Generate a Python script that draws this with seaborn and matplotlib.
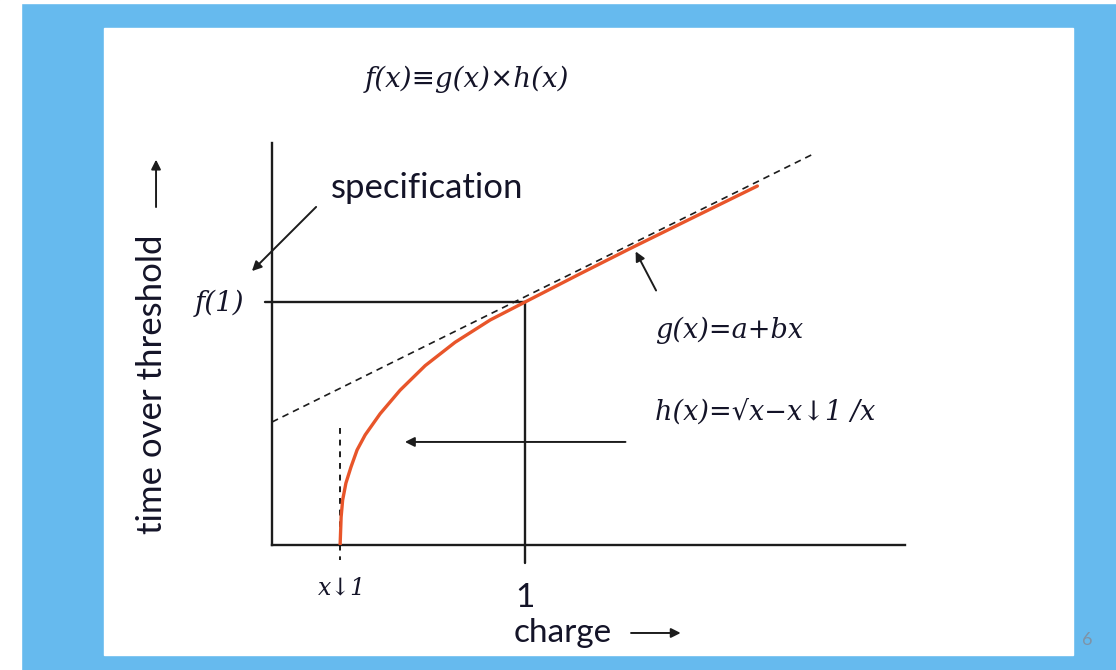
import numpy as np
import pandas as pd
import seaborn as sns
import matplotlib.pyplot as plt
from matplotlib.patches import Rectangle

# curve f(x) (charge units: x1 ~ 0.27, f(1) = 1)
charge = [0.269, 0.273, 0.279, 0.292, 0.312, 0.336, 0.368, 0.427, 0.506, 0.605,
          0.723, 0.862, 1.000, 1.217, 1.415, 1.692, 1.917]
tot = [0.000, 0.115, 0.185, 0.255, 0.321, 0.391, 0.453, 0.540, 0.637, 0.738,
       0.834, 0.926, 1.000, 1.116, 1.220, 1.362, 1.477]

# linear part g(x) = a + bx (dashed)
g_charge = [0.0, 2.146]
g_tot = [0.506, 1.613]

x1 = 0.269
f1 = 1.0

title_eq = "f(x)≡g(x)×h(x)"
g_label = "g(x)=a+bx"
h_label = "h(x)=√x−x↓1 /x"
x1_label = "x↓1"
f1_label = "f(1)"
xlabel = "charge"
ylabel = "time over threshold"

sns.set_style("white")
plt.rcParams['font.family'] = ['Lato', 'DejaVu Sans']
serif = ['DejaVu Serif']
ink = '#1c1c1c'
navy = '#141428'

fig = plt.figure(figsize=(11.16, 6.70), dpi=100, facecolor='#66BAEE')
fig.patches.append(Rectangle((0, 0), 21 / 1116, 1, transform=fig.transFigure,
                             color='white', zorder=-5))
fig.patches.append(Rectangle((0, 667 / 670), 1, 3 / 670, transform=fig.transFigure,
                             color='white', zorder=-5))
fig.patches.append(Rectangle((104 / 1116, 15 / 670), 969 / 1116, 627 / 670,
                             transform=fig.transFigure, color='white', zorder=-5))
fig.text(1087 / 1116, 30 / 670, "6", color='#7f93a6', fontsize=13,
         ha='center', va='center')

ax = fig.add_axes([272 / 1116, 125 / 670, 633 / 1116, 402 / 670])
ax.set_zorder(2)
ax.set_facecolor('none')
ax.set_xlim(0, 2.5)
ax.set_ylim(0, 1.654)
ax.set_xticks([])
ax.set_yticks([])
for s in ['top', 'right']:
    ax.spines[s].set_visible(False)
for s in ['left', 'bottom']:
    ax.spines[s].set_color(ink)
    ax.spines[s].set_linewidth(1.7)

df = pd.DataFrame({'charge': charge, 'tot': tot})
sns.lineplot(data=df, x='charge', y='tot', ax=ax, color='#E8552A', lw=2.4,
             sort=False, estimator=None, zorder=4)
sns.lineplot(x=g_charge, y=g_tot, ax=ax, color=ink, lw=1.2, zorder=3,
             linestyle=(0, (4, 3)))

# reference lines at x = 1 and f(1)
ax.plot([-0.028, 1], [f1, f1], color=ink, lw=1.7, clip_on=False)
ax.plot([1, 1], [f1, -0.074], color=ink, lw=1.7, clip_on=False)
ax.plot([x1, x1], [0.481, -0.062], color=ink, lw=1.4, clip_on=False,
        linestyle=(0, (3, 3)))

arrow = dict(arrowstyle='-|>', color=ink, lw=1.4, mutation_scale=14)
ax.annotate("", xy=(-0.087, 1.119), xytext=(0.182, 1.399), arrowprops=arrow,
            annotation_clip=False)
ax.annotate("", xy=(1.431, 1.218), xytext=(1.522, 1.037), arrowprops=arrow,
            annotation_clip=False)
ax.annotate("", xy=(0.514, 0.424), xytext=(1.407, 0.424), arrowprops=arrow,
            annotation_clip=False)
ax.annotate("", xy=(1.625, -0.362), xytext=(1.407, -0.362), arrowprops=arrow,
            annotation_clip=False)
ax.annotate("", xy=(-0.458, 1.597), xytext=(-0.458, 1.379), arrowprops=arrow,
            annotation_clip=False)

ax.text(0.613, 1.469, "specification", fontsize=25, color=navy,
        ha='center', va='center', clip_on=False)
ax.text(-0.474, 0.660, ylabel, fontsize=25, color=navy, rotation=90,
        ha='center', va='center', clip_on=False)
ax.text(1.150, -0.362, xlabel, fontsize=24, color=navy,
        ha='center', va='center', clip_on=False)
ax.text(1.0, -0.218, "1", fontsize=24, color=navy,
        ha='center', va='center', clip_on=False)

ax.text(0.771, 1.914, title_eq, fontsize=20, color=navy, family=serif,
        style='italic', ha='center', va='center', clip_on=False)
ax.text(-0.209, 0.996, f1_label, fontsize=20, color=navy, family=serif,
        style='italic', ha='center', va='center', clip_on=False)
ax.text(1.514, 0.885, g_label, fontsize=19.5, color=navy, family=serif,
        style='italic', ha='left', va='center', clip_on=False)
ax.text(1.514, 0.547, h_label, fontsize=19.5, color=navy, family=serif,
        style='italic', ha='left', va='center', clip_on=False)
ax.text(0.277, -0.177, x1_label, fontsize=17, color=navy, family=serif,
        style='italic', ha='center', va='center', clip_on=False)

fig.savefig('out.png', dpi=100, facecolor=fig.get_facecolor())
